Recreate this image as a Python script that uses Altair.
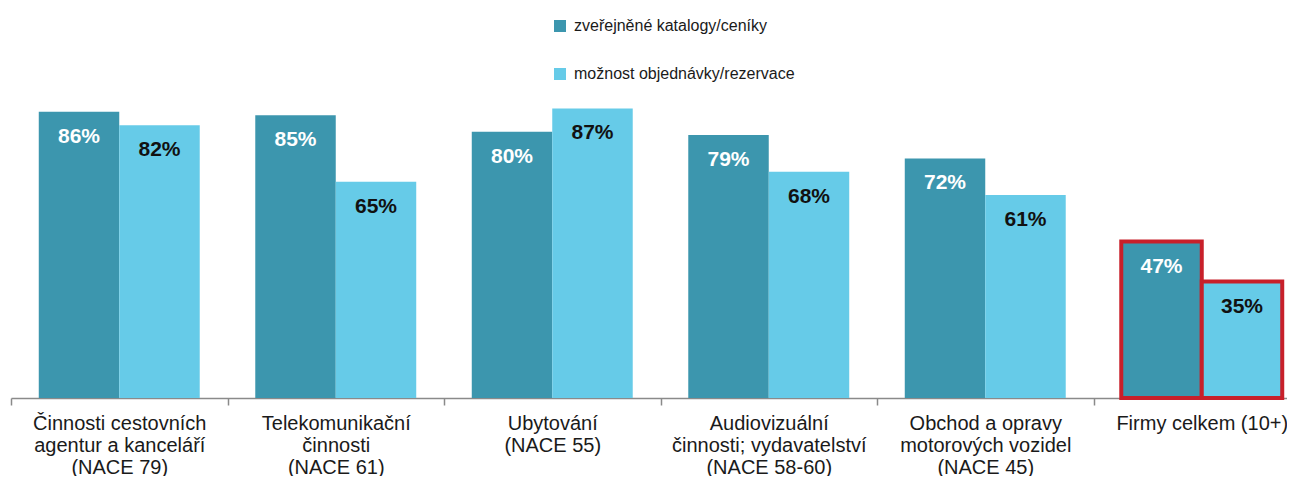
import altair as alt
import pandas as pd

categories = [
    "Činnosti cestovních|agentur a kanceláří|(NACE 79)",
    "Telekomunikační|činnosti|(NACE 61)",
    "Ubytování|(NACE 55)",
    "Audiovizuální|činnosti; vydavatelství|(NACE 58-60)",
    "Obchod a opravy|motorových vozidel|(NACE 45)",
    "Firmy celkem (10+)",
]
series = ["zveřejněné katalogy/ceníky", "možnost objednávky/rezervace"]
catalogs = [86, 85, 80, 79, 72, 47]
orders = [82, 65, 87, 68, 61, 35]
highlight = "Firmy celkem (10+)"

colors = ["#3C96AE", "#66CBE8"]
FONT = "Liberation Sans"

rows = []
for c, a, b in zip(categories, catalogs, orders):
    rows.append({"category": c, "series": series[0], "value": a, "label": f"{a}%"})
    rows.append({"category": c, "series": series[1], "value": b, "label": f"{b}%"})
df = pd.DataFrame(rows)

x = alt.X(
    "category:N",
    sort=categories,
    scale=alt.Scale(range=[0, 1299], paddingInner=0, paddingOuter=0),
    axis=alt.Axis(
        title=None,
        labelAngle=0,
        labelExpr="datum.value ? split(datum.value, '|') : ''",
        tickBand="extent",
        domainColor="#8a8a8a",
        domainWidth=1.5,
        tickColor="#8a8a8a",
        tickWidth=1.5,
        tickSize=7,
        labelFont=FONT,
        labelFontSize=20,
        labelColor="#1a1a1a",
        labelLineHeight=22,
        labelPadding=8,
        labelBaseline="top",
        labelLimit=0,
        grid=False,
    ),
)
xo = alt.XOffset("series:N", sort=series, scale=alt.Scale(paddingInner=0, paddingOuter=0.345))
y = alt.Y("value:Q", scale=alt.Scale(domain=[0, 116.6], nice=False), axis=None)

bars = alt.Chart(df).mark_bar().encode(
    x=x,
    xOffset=xo,
    y=y,
    color=alt.Color(
        "series:N",
        sort=series,
        scale=alt.Scale(domain=series, range=colors),
        legend=alt.Legend(
            title=None,
            orient="none",
            legendX=541,
            legendY=8,
            direction="vertical",
            symbolType="square",
            symbolSize=144,
            symbolStrokeWidth=0,
            labelFont=FONT,
            labelFontSize=16,
            labelColor="#1a1a1a",
            labelOffset=6,
            labelLimit=0,
            rowPadding=32,
            padding=0,
        ),
    ),
    stroke=alt.condition(alt.datum.category == highlight, alt.value("#C8202A"), alt.value("transparent")),
    strokeWidth=alt.condition(alt.datum.category == highlight, alt.value(4), alt.value(0)),
)

texts = alt.Chart(df).mark_text(
    dy=25, baseline="middle", align="center", fontWeight="bold", fontSize=21, font=FONT
).encode(
    x=x,
    xOffset=xo,
    y=y,
    text="label:N",
    color=alt.condition(alt.datum.series == series[0], alt.value("white"), alt.value("#111111")),
)

chart = (
    alt.layer(bars, texts)
    .properties(
        width=1276,
        height=388,
        autosize=alt.AutoSizeParams(type="none"),
        padding={"left": 3, "top": 2, "right": 0, "bottom": 78},
        view=alt.ViewBackground(stroke="white", strokeWidth=0, strokeOpacity=0),
    )
    .configure_view(stroke="white", strokeWidth=0, strokeOpacity=0)
    .configure(background="white")
)

chart.save("out.html", embed_options={"renderer": "svg", "actions": False})
